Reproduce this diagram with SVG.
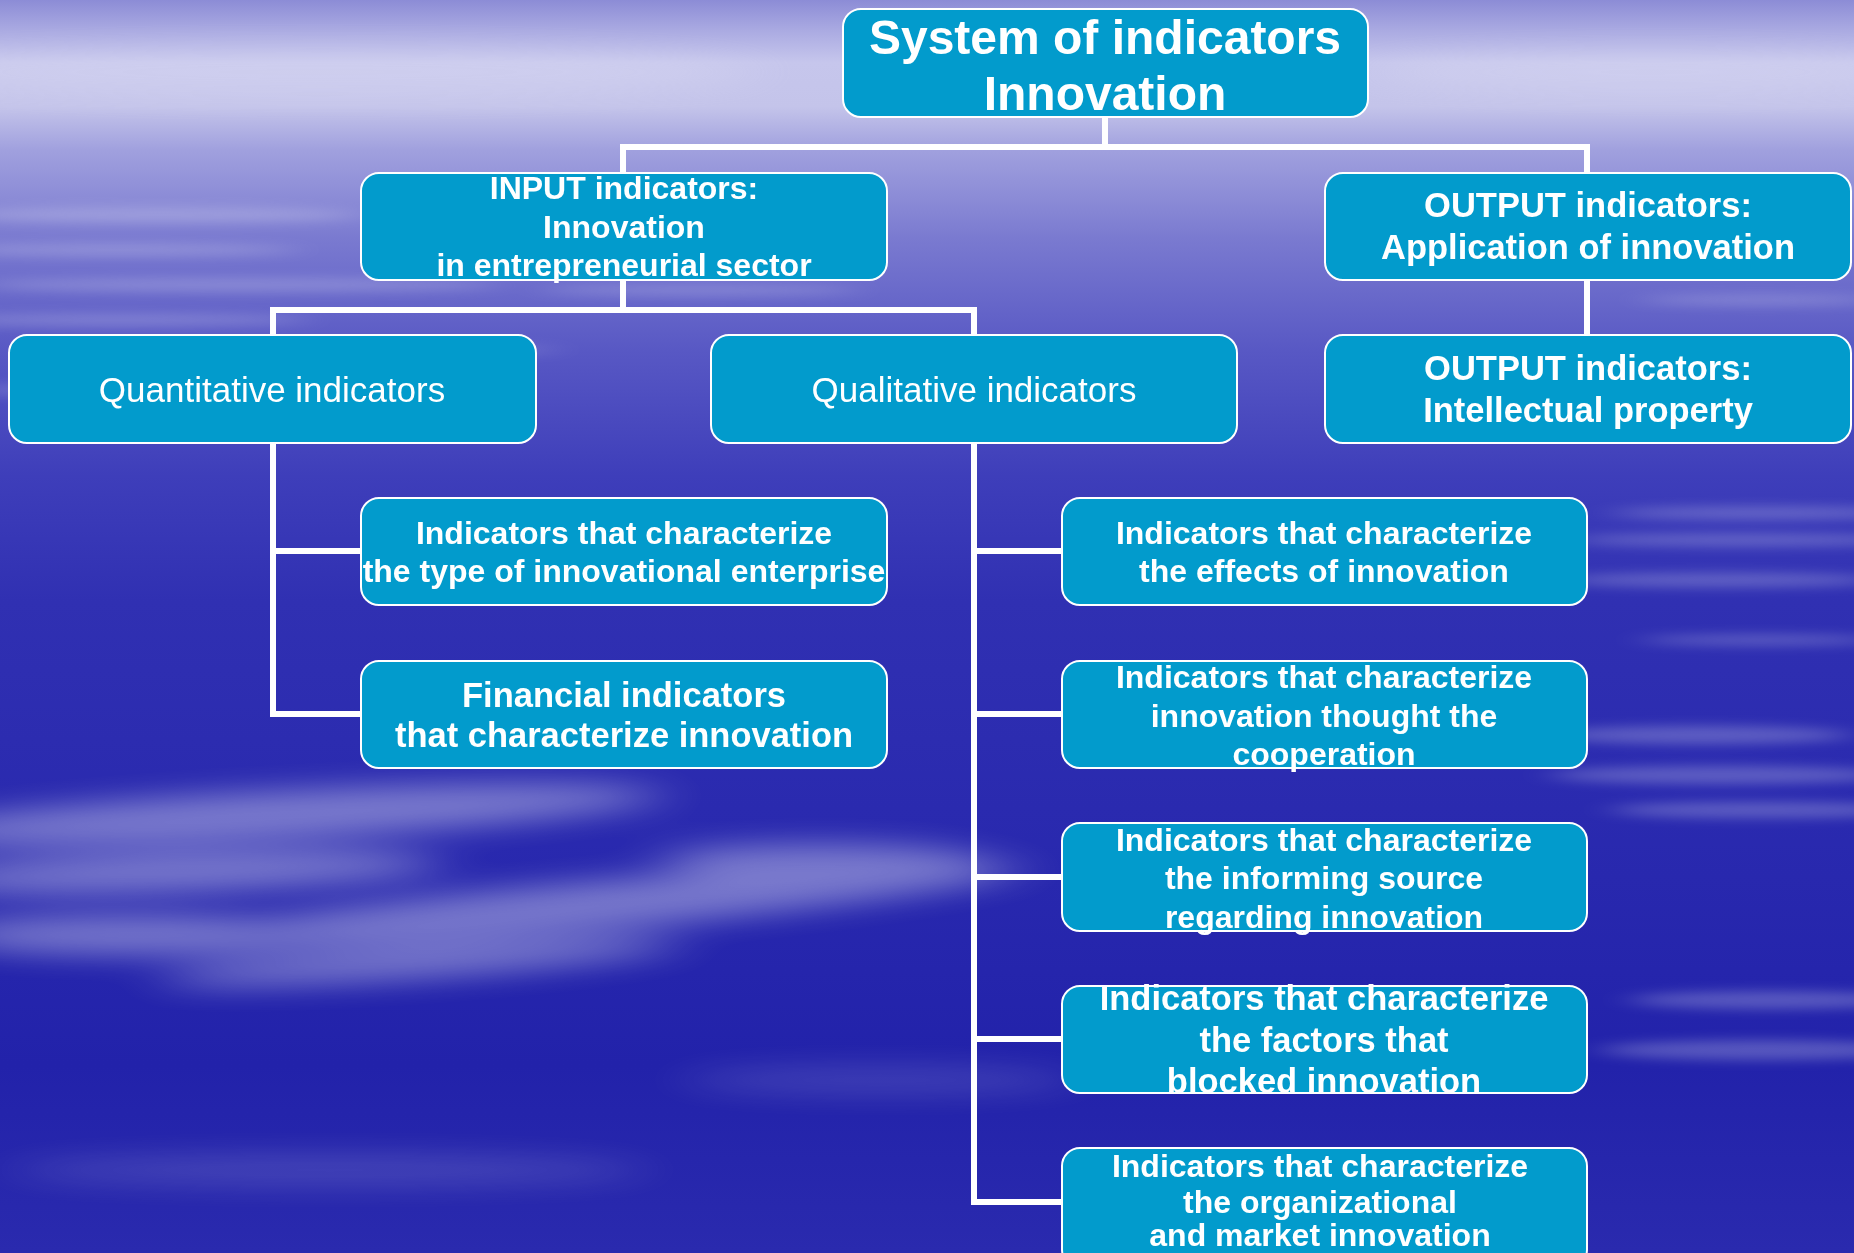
<svg xmlns="http://www.w3.org/2000/svg" width="1854" height="1253" viewBox="0 0 1854 1253">
  <defs>
    <linearGradient id="sky" x1="0" y1="0" x2="0" y2="1">
      <stop offset="0" stop-color="#8c8cd6"/>
      <stop offset="0.025" stop-color="#ababe2"/>
      <stop offset="0.05" stop-color="#c6c6ec"/>
      <stop offset="0.085" stop-color="#c4c4ea"/>
      <stop offset="0.12" stop-color="#a0a0de"/>
      <stop offset="0.19" stop-color="#7a7ad0"/>
      <stop offset="0.28" stop-color="#5858c4"/>
      <stop offset="0.38" stop-color="#3e3eba"/>
      <stop offset="0.48" stop-color="#3030b2"/>
      <stop offset="0.7" stop-color="#2828ae"/>
      <stop offset="0.85" stop-color="#2222aa"/>
      <stop offset="1" stop-color="#2a2aae"/>
    </linearGradient>
    <filter id="soft" x="-30%" y="-200%" width="160%" height="500%">
      <feGaussianBlur stdDeviation="18 6"/>
    </filter>
    <filter id="softer" x="-30%" y="-150%" width="160%" height="400%">
      <feGaussianBlur stdDeviation="30 14"/>
    </filter>
  </defs>
  <style>
    .box { fill: #029bcc; stroke: #ffffff; stroke-width: 2; }
    .t { font-family: "Liberation Sans", Arial, sans-serif; fill: #ffffff; text-anchor: middle; }
    .b { font-weight: bold; }
    .wire { fill: none; stroke: #ffffff; stroke-width: 6; stroke-linecap: square; }
  </style>

  <!-- sky background -->
  <rect x="0" y="0" width="1854" height="1253" fill="url(#sky)"/>
  <g id="clouds" fill="#ffffff">
    <g filter="url(#softer)" opacity="0.14">
      <ellipse cx="320" cy="72" rx="440" ry="26"/>
      <ellipse cx="1650" cy="72" rx="280" ry="22"/>
    </g>
    <g filter="url(#soft)" opacity="0.2">
      <ellipse cx="160" cy="215" rx="200" ry="8"/>
      <ellipse cx="120" cy="250" rx="180" ry="6"/>
      <ellipse cx="240" cy="285" rx="260" ry="7"/>
      <ellipse cx="120" cy="320" rx="190" ry="6"/>
      <ellipse cx="300" cy="350" rx="260" ry="6"/>
      <ellipse cx="140" cy="390" rx="180" ry="6"/>
      <ellipse cx="260" cy="425" rx="220" ry="5"/>
      <ellipse cx="700" cy="290" rx="160" ry="5"/>
      <ellipse cx="1760" cy="300" rx="120" ry="5"/>
    </g>
    <g filter="url(#softer)" opacity="0.38">
      <ellipse cx="280" cy="815" rx="380" ry="24" transform="rotate(-3 280 815)"/>
      <ellipse cx="180" cy="872" rx="260" ry="20" transform="rotate(-2 180 872)"/>
      <ellipse cx="600" cy="905" rx="420" ry="24" transform="rotate(-5 600 905)"/>
      <ellipse cx="140" cy="935" rx="200" ry="20"/>
      <ellipse cx="420" cy="962" rx="260" ry="16" transform="rotate(-4 420 962)"/>
      <ellipse cx="820" cy="860" rx="160" ry="16"/>
    </g>
    <g filter="url(#softer)" opacity="0.14">
      <ellipse cx="330" cy="1170" rx="320" ry="16"/>
      <ellipse cx="880" cy="1080" rx="200" ry="14"/>
    </g>
    <g filter="url(#soft)" opacity="0.24">
      <ellipse cx="1760" cy="513" rx="150" ry="6"/>
      <ellipse cx="1740" cy="540" rx="170" ry="6"/>
      <ellipse cx="1720" cy="580" rx="160" ry="7"/>
      <ellipse cx="1760" cy="640" rx="120" ry="5"/>
      <ellipse cx="1700" cy="735" rx="150" ry="9"/>
      <ellipse cx="1720" cy="775" rx="170" ry="9"/>
      <ellipse cx="1760" cy="810" rx="150" ry="8"/>
      <ellipse cx="1770" cy="1000" rx="140" ry="9"/>
      <ellipse cx="1760" cy="1050" rx="160" ry="10"/>
    </g>
  </g>

  <!-- tree connectors -->
  <g id="connectors">
    <path class="wire" d="M1105 117 V147 M623 147 H1587 M623 147 V173 M1587 147 V173"/>
    <path class="wire" d="M1587 280 V335"/>
    <path class="wire" d="M623 280 V310 M273 310 H974 M273 310 V335 M974 310 V335"/>
    <path class="wire" d="M273 443 V714 H361 M273 551 H361"/>
    <path class="wire" d="M974 443 V1202 H1062 M974 551 H1062 M974 714 H1062 M974 877 H1062 M974 1039 H1062"/>
  </g>

  <g id="root">
    <rect class="box" x="843" y="9" width="525" height="108" rx="18"/>
    <text class="t b" x="1105" y="54" font-size="48">System of indicators</text>
    <text class="t b" x="1105" y="110" font-size="48">Innovation</text>
  </g>

  <g id="input">
    <rect class="box" x="361" y="173" width="526" height="107" rx="18"/>
    <text class="t b" x="624" y="199" font-size="32">INPUT indicators:</text>
    <text class="t b" x="624" y="237.5" font-size="32">Innovation</text>
    <text class="t b" x="624" y="276" font-size="32">in entrepreneurial sector</text>
  </g>

  <g id="output-application">
    <rect class="box" x="1325" y="173" width="526" height="107" rx="18"/>
    <text class="t b" x="1588" y="217" font-size="34.5">OUTPUT indicators:</text>
    <text class="t b" x="1588" y="259" font-size="34.5">Application of innovation</text>
  </g>

  <g id="output-property">
    <rect class="box" x="1325" y="335" width="526" height="108" rx="18"/>
    <text class="t b" x="1588" y="380" font-size="34.5">OUTPUT indicators:</text>
    <text class="t b" x="1588" y="422" font-size="34.5">Intellectual property</text>
  </g>

  <g id="quantitative">
    <rect class="box" x="9" y="335" width="527" height="108" rx="18"/>
    <text class="t" x="272" y="402" font-size="35">Quantitative indicators</text>
  </g>

  <g id="qualitative">
    <rect class="box" x="711" y="335" width="526" height="108" rx="18"/>
    <text class="t" x="974" y="402" font-size="35">Qualitative indicators</text>
  </g>

  <g id="enterprise-type">
    <rect class="box" x="361" y="498" width="526" height="107" rx="18"/>
    <text class="t b" x="624" y="544" font-size="32">Indicators that characterize</text>
    <text class="t b" x="624" y="582" font-size="32">the type of innovational enterprise</text>
  </g>

  <g id="financial">
    <rect class="box" x="361" y="661" width="526" height="107" rx="18"/>
    <text class="t b" x="624" y="707" font-size="34.5">Financial indicators</text>
    <text class="t b" x="624" y="747" font-size="34.5">that characterize innovation</text>
  </g>

  <g id="effects">
    <rect class="box" x="1062" y="498" width="525" height="107" rx="18"/>
    <text class="t b" x="1324" y="544" font-size="32">Indicators that characterize</text>
    <text class="t b" x="1324" y="582" font-size="32">the effects of innovation</text>
  </g>

  <g id="cooperation">
    <rect class="box" x="1062" y="661" width="525" height="107" rx="18"/>
    <text class="t b" x="1324" y="688" font-size="32">Indicators that characterize</text>
    <text class="t b" x="1324" y="727" font-size="32">innovation thought the</text>
    <text class="t b" x="1324" y="765" font-size="32">cooperation</text>
  </g>

  <g id="informing-source">
    <rect class="box" x="1062" y="823" width="525" height="108" rx="18"/>
    <text class="t b" x="1324" y="851" font-size="32">Indicators that characterize</text>
    <text class="t b" x="1324" y="889" font-size="32">the informing source</text>
    <text class="t b" x="1324" y="928" font-size="32">regarding innovation</text>
  </g>

  <g id="blocking-factors">
    <rect class="box" x="1062" y="986" width="525" height="107" rx="18"/>
    <text class="t b" x="1324" y="1010" font-size="34.5">Indicators that characterize</text>
    <text class="t b" x="1324" y="1052" font-size="34.5">the factors that</text>
    <text class="t b" x="1324" y="1093" font-size="34.5">blocked innovation</text>
  </g>

  <g id="organizational">
    <rect class="box" x="1062" y="1148" width="525" height="120" rx="18"/>
    <text class="t b" x="1320" y="1177" font-size="32">Indicators that characterize</text>
    <text class="t b" x="1320" y="1213" font-size="32">the organizational</text>
    <text class="t b" x="1320" y="1246" font-size="32">and market innovation</text>
  </g>
</svg>
